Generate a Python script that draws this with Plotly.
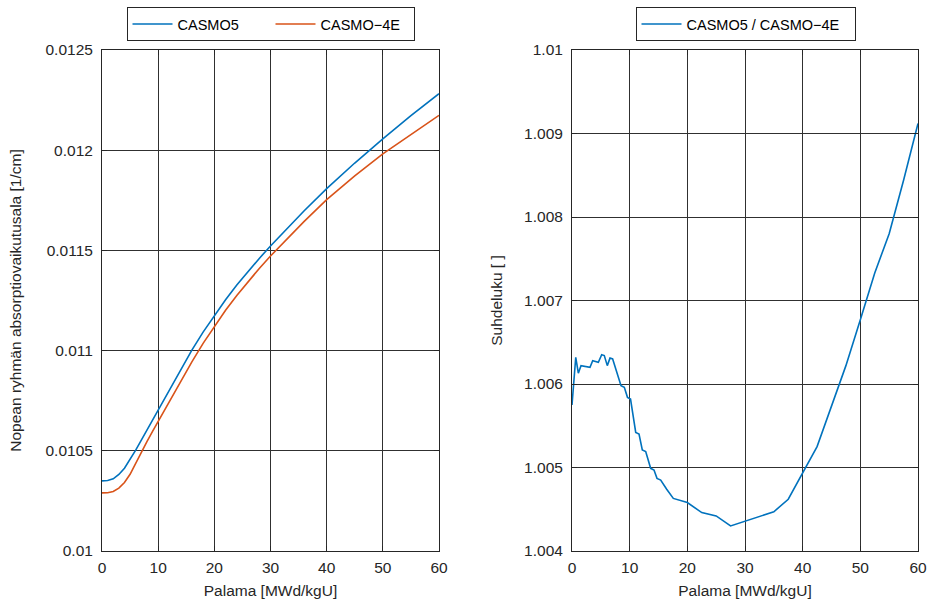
import plotly.graph_objects as go

# Burnup points [MWd/kgU] for the absorption cross-section curves
burnup = [0, 1, 2, 3, 4, 5, 6, 7, 8, 9, 10, 12, 14, 16, 18, 20, 22, 24, 26, 28,
          30, 33, 36, 40, 45, 50, 55, 60]
casmo5 = [0.010350, 0.010352, 0.010360, 0.010382, 0.010413, 0.010455, 0.010503,
          0.010553, 0.010603, 0.010654, 0.010704, 0.010807, 0.010907, 0.011002,
          0.011092, 0.011176, 0.011254, 0.011327, 0.011395, 0.011460, 0.011522,
          0.011612, 0.011698, 0.011808, 0.011936, 0.012057, 0.012172, 0.012282]
casmo4e = [0.010290, 0.010291, 0.010297, 0.010314, 0.010342, 0.010383, 0.010437,
           0.010494, 0.010546, 0.010597, 0.010647, 0.010749, 0.010849, 0.010944,
           0.011036, 0.011121, 0.011201, 0.011275, 0.011344, 0.011410, 0.011472,
           0.011561, 0.011645, 0.011753, 0.011872, 0.011982, 0.012080, 0.012174]

# Ratio CASMO5 / CASMO-4E
ratio_burnup = [0, 0.65, 1.1, 1.56, 3.12, 3.59, 4.57, 5.15, 5.6, 6.12, 6.59, 7.05,
                8.5, 9.07, 9.62, 10.15, 11.05, 11.62, 12.19, 12.78, 13.64, 14.22,
                14.74, 15.38, 16.42, 17.57, 20.0, 22.5, 25.0, 27.5, 35.0, 37.5,
                42.5, 47.5, 50.0, 52.5, 55.0, 57.5, 60.0]
ratio = [1.00575, 1.00632, 1.00613, 1.00622, 1.00620, 1.00628, 1.00626, 1.00635,
         1.00634, 1.00622, 1.00631, 1.00630, 1.00598, 1.00596, 1.00584, 1.00582,
         1.00542, 1.00540, 1.00521, 1.00519, 1.00499, 1.00497, 1.00487, 1.00485,
         1.00474, 1.00463, 1.00458, 1.00446, 1.00442, 1.00430, 1.00447, 1.00462,
         1.00525, 1.00622, 1.00677, 1.00733, 1.00780, 1.00844, 1.00912]

x_ticks = [0, 10, 20, 30, 40, 50, 60]
left_ticks = [0.01, 0.0105, 0.011, 0.0115, 0.012, 0.0125]
left_labels = ["0.01", "0.0105", "0.011", "0.0115", "0.012", "0.0125"]
right_ticks = [1.004, 1.005, 1.006, 1.007, 1.008, 1.009, 1.01]
right_labels = ["1.004", "1.005", "1.006", "1.007", "1.008", "1.009", "1.01"]

BLUE = "#0072BD"
ORANGE = "#D95319"
INK = "#262626"
FONT = "Liberation Sans, Arial, sans-serif"

fig = go.Figure()
fig.add_trace(go.Scatter(x=burnup, y=casmo5, mode="lines", name="CASMO5",
                         line=dict(color=BLUE, width=1.6),
                         xaxis="x", yaxis="y", legend="legend"))
fig.add_trace(go.Scatter(x=burnup, y=casmo4e, mode="lines", name="CASMO\u22124E",
                         line=dict(color=ORANGE, width=1.6),
                         xaxis="x", yaxis="y", legend="legend"))
fig.add_trace(go.Scatter(x=ratio_burnup, y=ratio, mode="lines",
                         name="CASMO5 / CASMO\u22124E",
                         line=dict(color=BLUE, width=1.6),
                         xaxis="x2", yaxis="y2", legend="legend2"))

axis_common = dict(
    showline=True, linecolor=INK, linewidth=1, mirror="allticks",
    ticks="inside", ticklen=5, tickcolor=INK, tickwidth=1,
    showgrid=True, gridcolor="#303030", gridwidth=1,
    zeroline=False, automargin=False,
    tickfont=dict(family=FONT, size=15.5, color=INK),
)

W, H = 931, 604
def xdom(a, b):
    return [a / W, b / W]
ydom = [(H - 551) / H, (H - 50) / H]
title_font = dict(family=FONT, size=15.5, color=INK)
legend_font = dict(family=FONT, size=14.5, color="black")

fig.update_layout(
    width=W, height=H,
    margin=dict(l=0, r=0, t=0, b=0, autoexpand=False),
    paper_bgcolor="white", plot_bgcolor="white",
    font=dict(family=FONT, color=INK),
    xaxis=dict(domain=xdom(102, 439), range=[0, 60], tickvals=x_ticks,
               anchor="y", ticklabelstandoff=2,
               title=dict(text="Palama [MWd/kgU]", standoff=10, font=title_font),
               **axis_common),
    yaxis=dict(domain=ydom, range=[0.01, 0.0125], tickvals=left_ticks,
               ticktext=left_labels, anchor="x", ticklabelstandoff=5,
               title=dict(text="Nopean ryhmän absorptiovaikutusala [1/cm]",
                          standoff=20, font=title_font),
               **axis_common),
    xaxis2=dict(domain=xdom(572, 918), range=[0, 60], tickvals=x_ticks,
                anchor="y2", ticklabelstandoff=2,
                title=dict(text="Palama [MWd/kgU]", standoff=10, font=title_font),
                **axis_common),
    yaxis2=dict(domain=ydom, range=[1.004, 1.01], tickvals=right_ticks,
                ticktext=right_labels, anchor="x2", ticklabelstandoff=5,
                title=dict(text="Suhdeluku [ ]", standoff=17, font=title_font),
                **axis_common),
    legend=dict(orientation="h", x=270.5 / W, xanchor="center",
                y=1 - 7 / H, yanchor="top", bgcolor="white",
                bordercolor=INK, borderwidth=1, font=legend_font,
                entrywidth=88, itemwidth=40),
    legend2=dict(orientation="h", x=745.5 / W, xanchor="center",
                 y=1 - 7 / H, yanchor="top", bgcolor="white",
                 bordercolor=INK, borderwidth=1, font=legend_font,
                 entrywidth=163, itemwidth=40),
    showlegend=True,
)

fig.write_html("out.html")
